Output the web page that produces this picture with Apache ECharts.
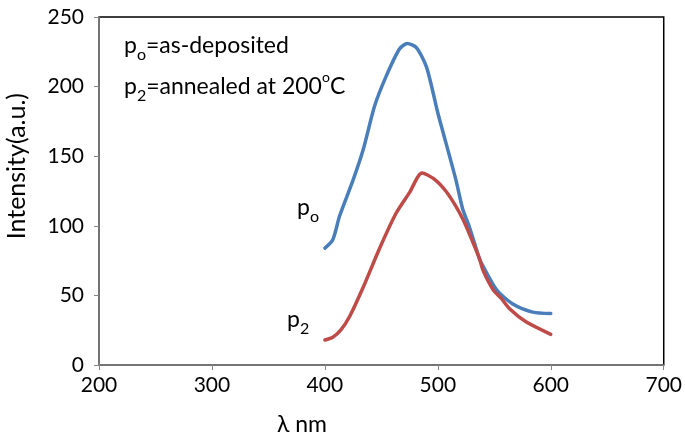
<!DOCTYPE html>
<html>
<head>
<meta charset="utf-8">
<script src="https://cdn.jsdelivr.net/npm/echarts@6/dist/echarts.min.js"></script>
<style>
  html, body { margin: 0; padding: 0; background: #fff; }
  #chart { width: 685px; height: 436px; }
</style>
</head>
<body>
<div id="chart"></div>
<script>
// Photoluminescence spectra: as-deposited (po) vs annealed at 200 °C (p2)
const poWavelength = [400, 407, 413, 425, 434, 444, 454, 466, 473, 481, 490, 500, 504, 516, 522, 528, 537, 540, 552, 566, 584, 600];
const poIntensity  = [84, 90, 107, 133, 155, 186, 207, 227, 231, 228, 214, 181, 169, 133, 112, 99, 76, 71, 54, 44, 38, 37];

const p2Wavelength = [400, 407, 414, 422, 434, 448, 463, 475, 486, 496, 507, 516, 522, 528, 537, 540, 549, 556, 564, 578, 600];
const p2Intensity  = [18, 20, 25, 35, 56, 83, 109, 124, 138, 134, 125, 114, 105, 94, 76, 68, 54, 48, 40, 31, 22];

const xTicks = [200, 300, 400, 500, 600, 700];
const yTicks = [0, 50, 100, 150, 200, 250];

const FONT = 'Lato';
const pairs = (xs, ys) => xs.map((x, i) => [x, ys[i]]);

const chart = echarts.init(document.getElementById('chart'), null, { renderer: 'canvas' });

const rich = {
  n:   { fontFamily: FONT, fontSize: 23, color: '#000', lineHeight: 28, verticalAlign: 'middle' },
  sub: { fontFamily: FONT, fontSize: 16, color: '#000', lineHeight: 34, verticalAlign: 'bottom' },
  sup: { fontFamily: FONT, fontSize: 14, color: '#000', lineHeight: 28, verticalAlign: 'top' }
};

chart.setOption({
  animation: false,
  backgroundColor: '#fff',
  grid: {
    left: 99, top: 17, right: 20, bottom: 71,
    show: true, borderColor: '#000', borderWidth: 1.5, backgroundColor: 'transparent'
  },
  xAxis: {
    type: 'value',
    min: xTicks[0], max: xTicks[xTicks.length - 1], interval: 100,
    axisLine: { show: true, onZero: false, lineStyle: { color: '#868686', width: 1.5 } },
    axisTick: { show: true, inside: false, length: 5, lineStyle: { color: '#868686' } },
    splitLine: { show: false },
    axisLabel: { fontFamily: FONT, fontSize: 21, color: '#000', margin: 10 }
  },
  yAxis: {
    type: 'value',
    min: yTicks[0], max: yTicks[yTicks.length - 1], interval: 50,
    axisLine: { show: true, lineStyle: { color: '#868686', width: 1.5 } },
    axisTick: { show: true, inside: false, length: 5, lineStyle: { color: '#868686' } },
    splitLine: { show: false },
    axisLabel: { fontFamily: FONT, fontSize: 21, color: '#000', margin: 15 }
  },
  series: [
    {
      name: 'po', type: 'line', data: pairs(poWavelength, poIntensity),
      smooth: 0.25, showSymbol: false,
      lineStyle: { color: '#4a7ebb', width: 3.5, cap: 'round', join: 'round' }
    },
    {
      name: 'p2', type: 'line', data: pairs(p2Wavelength, p2Intensity),
      smooth: 0.25, showSymbol: false,
      lineStyle: { color: '#be4b48', width: 3.5, cap: 'round', join: 'round' }
    }
  ],
  graphic: [
    {
      type: 'text', left: 4, top: 93, rotation: Math.PI / 2,
      style: { text: 'Intensity(a.u.)', fontFamily: FONT, fontSize: 25, fill: '#000' }
    },
    {
      type: 'text', left: 277, top: 413,
      style: { text: 'λ nm', fontFamily: FONT, fontSize: 23, fill: '#000' }
    },
    {
      type: 'text', left: 124, top: 34,
      style: { text: '{n|p}{sub|o}{n|=as-deposited}', rich: rich }
    },
    {
      type: 'text', left: 124, top: 70,
      style: { text: '{n|p}{sub|2}{n|=annealed at 200}{sup|o}{n|C}', rich: rich }
    },
    {
      type: 'text', left: 297, top: 196,
      style: { text: '{n|p}{sub|o}', rich: rich }
    },
    {
      type: 'text', left: 287, top: 308,
      style: { text: '{n|p}{sub|2}', rich: rich }
    }
  ]
});
</script>
</body>
</html>
